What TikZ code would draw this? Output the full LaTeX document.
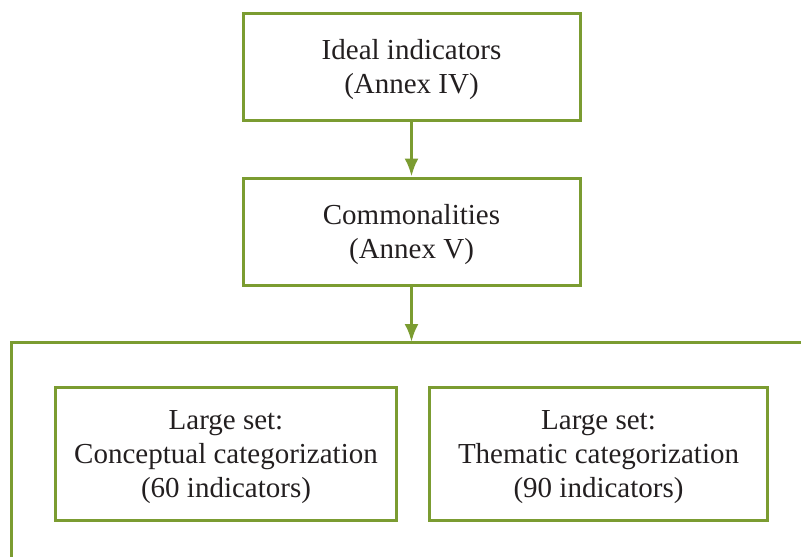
\documentclass[tikz,border=0pt]{standalone}
\usepackage{fontspec}
\setmainfont{Liberation Serif}
\usepackage{tikz}
\usetikzlibrary{positioning}
\usetikzlibrary{arrows.meta}
\definecolor{leafgreen}{RGB}{123,156,49}
\definecolor{inktext}{RGB}{35,31,32}
\tikzset{>={Latex[width=7pt,length=9pt]}}

\begin{document}
\begin{tikzpicture}[x=0.5pt, y=-0.5pt, font=\fontsize{14.5}{17}\selectfont, text=inktext, node/.style={rectangle, draw=leafgreen, line width=1.5pt, align=center, text depth=-3.9pt, minimum width=168.5pt, minimum height=53.5pt}, bignode/.style={rectangle, draw=leafgreen, line width=1.5pt, align=center, text depth=-1.9pt, minimum width=170.5pt, minimum height=66.5pt}, frameline/.style={draw=leafgreen, line width=1.5pt}]
    \useasboundingbox (0,0) rectangle (801,557);
    
    %Nodes
    \node[node](ideal) at (411.5,66.5){Ideal indicators\\(Annex IV)};
    \node[node](common)[below=27.5pt of ideal]{Commonalities\\(Annex V)};
    \node[bignode](conceptual) at (226,453.5){Large set:\\Conceptual categorization\\(60 indicators)};
    \node[bignode, minimum width=169pt](thematic)[right=15pt of conceptual]{Large set:\\Thematic categorization\\(90 indicators)};
    \coordinate (frameright) at (801,342);
    \coordinate (frameleft) at (11,342);
    \coordinate (frameend) at (11,557);
    
    %Lines
    \draw[frameline] (frameright) -- (frameleft) -- (frameend);
    \draw[->, frameline] (ideal.south) -- (common.north);
    \draw[->, frameline] (common.south) -- (common.south |- frameleft);
    
\end{tikzpicture}
\end{document}
